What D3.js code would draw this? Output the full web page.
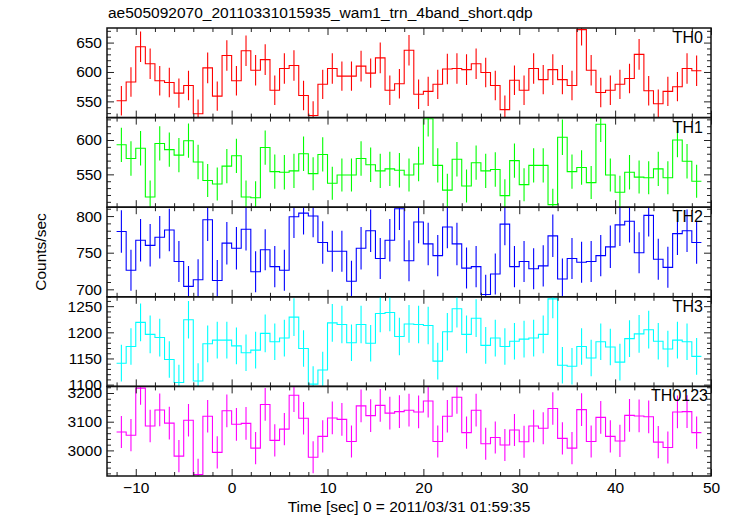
<!DOCTYPE html>
<html>
<head>
<meta charset="utf-8">
<script src="https://cdn.jsdelivr.net/npm/d3@7"></script>
<style>
  html, body { margin: 0; padding: 0; background: #fff; }
  svg { display: block; }
  text { font-family: "Liberation Sans", Arial, Helvetica, sans-serif; fill: #000; }
</style>
</head>
<body>
<svg id="chart" width="733" height="516"></svg>
<script>
// ---------------- DATA ----------------
const chartTitle = "ae505092070_20110331015935_wam1_trn_4band_short.qdp";
const xTitle = "Time [sec] 0 = 2011/03/31 01:59:35";
const yTitle = "Counts/sec";

// bin centres (s), bin width 1 s
const times = [-11.5,-10.5,-9.5,-8.5,-7.5,-6.5,-5.5,-4.5,-3.5,-2.5,-1.5,-0.5,0.5,1.5,2.5,3.5,4.5,5.5,6.5,7.5,8.5,9.5,10.5,11.5,12.5,13.5,14.5,15.5,16.5,17.5,18.5,19.5,20.5,21.5,22.5,23.5,24.5,25.5,26.5,27.5,28.5,29.5,30.5,31.5,32.5,33.5,34.5,35.5,36.5,37.5,38.5,39.5,40.5,41.5,42.5,43.5,44.5,45.5,46.5,47.5,48.5];
const binHalfWidth = 0.5;

const seriesNames = ["TH0", "TH1", "TH2", "TH3", "TH0123"];

const th0 = [551,583,643,614,585,582,564,577,529,607,559,628,585,636,603,621,569,606,611,560,526,579,606,593,593,610,598,624,569,580,637,562,567,579,605,606,604,614,599,577,536,586,569,606,587,604,587,577,672,603,565,569,579,589,630,568,546,567,575,606,602];
const th0Err = [25,25,26,26,25,25,25,25,24,26,25,26,25,26,26,26,25,26,26,25,24,25,26,25,25,26,25,26,25,25,26,25,25,25,26,26,26,26,25,25,24,25,25,26,25,26,25,25,27,26,25,25,25,25,26,25,24,25,25,26,26];

const th1 = [593,573,588,517,595,586,578,599,568,541,536,562,577,517,516,589,554,553,555,580,551,579,537,549,549,573,564,555,558,556,549,565,631,563,527,572,533,567,555,557,519,570,535,563,563,506,604,554,560,538,623,549,524,553,546,545,558,545,600,569,540];
const th1Err = [25,25,25,24,25,25,25,25,25,24,24,25,25,24,24,25,25,25,25,25,24,25,24,24,24,25,25,25,25,25,24,25,26,25,24,25,24,25,25,25,24,25,24,25,25,23,26,25,25,24,26,24,24,25,24,24,25,24,25,25,24];

const th2 = [779,726,767,760,771,781,738,704,713,795,712,763,756,782,724,754,731,726,799,804,800,764,752,752,711,756,780,742,767,810,739,792,762,746,785,762,729,731,693,721,789,731,738,728,732,773,714,742,737,738,746,758,788,793,750,801,741,730,776,780,764];
const th2Err = [29,28,29,29,29,29,28,28,28,29,28,29,29,29,28,28,28,28,29,29,29,29,28,28,28,29,29,28,29,29,28,29,29,28,29,29,28,28,27,28,29,28,28,28,28,29,28,28,28,28,28,29,29,29,28,29,28,28,29,29,29];

const th3 = [1141,1173,1219,1196,1190,1148,1104,1224,1107,1178,1185,1185,1174,1161,1166,1198,1182,1189,1229,1169,1101,1128,1218,1215,1180,1215,1179,1236,1238,1192,1216,1215,1213,1145,1201,1245,1196,1227,1175,1189,1173,1183,1187,1189,1196,1264,1137,1135,1173,1151,1182,1172,1143,1188,1197,1205,1183,1168,1185,1182,1154];
const th3Err = [35,35,36,36,36,35,34,36,34,35,35,35,35,35,35,36,35,35,36,35,34,35,36,36,35,36,35,36,36,36,36,36,36,35,36,36,36,36,35,35,35,35,35,35,36,37,35,35,35,35,35,35,35,35,36,36,35,35,35,35,35];

const th0123 = [3064,3053,3217,3085,3141,3095,2980,3105,2916,3119,2993,3138,3091,3094,3008,3160,3035,3074,3192,3112,2976,3049,3113,3108,3031,3155,3121,3157,3130,3135,3140,3134,3172,3031,3119,3185,3062,3140,3023,3045,3019,3071,3030,3085,3077,3146,3042,3008,3142,3031,3115,3049,3033,3122,3120,3117,3029,3010,3134,3135,3062];
const th0123Err = [56,56,58,57,57,57,56,57,55,57,56,57,57,57,56,57,56,56,58,57,56,56,57,57,56,57,57,57,57,57,57,57,57,56,57,57,56,57,56,56,56,56,56,57,56,57,56,56,57,56,57,56,56,57,57,57,56,56,57,57,56];

// axis ranges and tick labels
const xDomain = [-13, 50];
const xMajorTicks = [-10, 0, 10, 20, 30, 40, 50];
const xMinorStep = 2;

const yDomains = [[522.4, 674.8], [502.2, 632.6], [689.8, 812.1], [1096.6, 1267.9], [2910.8, 3223]];
const yMajorTicks = [[550, 600, 650], [550, 600], [700, 750, 800], [1100, 1150, 1200, 1250], [3000, 3100, 3200]];
const yMinorSteps = [10, 10, 10, 10, 20];

const colors = ["#ff0000", "#00ff00", "#0000ff", "#00ffff", "#ff00ff"];

// ---------------- LAYOUT ----------------
const svg = d3.select("#chart");
const mLeft = 107, mRight = 711, mTop = 28, mBottom = 476;
const nP = 5;
const pH = (mBottom - mTop) / nP;
const FS = 15.5;

const x = d3.scaleLinear().domain(xDomain).range([mLeft, mRight]);

const values = [th0, th1, th2, th3, th0123];
const errors = [th0Err, th1Err, th2Err, th3Err, th0123Err];

const defs = svg.append("defs");

function minorTicks(domain, step) {
  const a = Math.ceil(domain[0] / step) * step;
  const out = [];
  for (let v = a; v <= domain[1] + 1e-9; v += step) out.push(+v.toFixed(6));
  return out;
}

const xMinor = minorTicks(xDomain, xMinorStep).filter(v => !xMajorTicks.includes(v));

for (let p = 0; p < nP; p++) {
  const y0 = mTop + p * pH, y1 = y0 + pH;
  const y = d3.scaleLinear().domain(yDomains[p]).range([y1, y0]);
  const g = svg.append("g");

  defs.append("clipPath").attr("id", "clip" + p)
    .append("rect").attr("x", mLeft).attr("y", y0).attr("width", mRight - mLeft).attr("height", pH);

  const data = times.map((t, i) => ({ t, v: values[p][i], e: errors[p][i] }));
  const stepPts = data.map(d => [d.t - binHalfWidth, d.v]);
  stepPts.push([data[data.length - 1].t + binHalfWidth, data[data.length - 1].v]);

  const dg = g.append("g").attr("clip-path", `url(#clip${p})`);
  dg.append("path")
    .attr("d", d3.line().x(d => x(d[0])).y(d => y(d[1])).curve(d3.curveStepAfter)(stepPts))
    .attr("fill", "none").attr("stroke", colors[p]).attr("stroke-width", 1.1);
  dg.selectAll("line.err").data(data).join("line")
    .attr("class", "err")
    .attr("x1", d => x(d.t)).attr("x2", d => x(d.t))
    .attr("y1", d => y(d.v - d.e)).attr("y2", d => y(d.v + d.e))
    .attr("stroke", colors[p]).attr("stroke-width", 1.1);

  // y axes (inward ticks)
  const yMin = minorTicks(yDomains[p], yMinorSteps[p]).filter(v => !yMajorTicks[p].includes(v));
  g.append("g").attr("transform", `translate(${mLeft},0)`)
    .call(d3.axisLeft(y).tickValues(yMajorTicks[p]).tickSize(-7).tickPadding(5).tickFormat(d3.format("d")));
  g.append("g").attr("transform", `translate(${mLeft},0)`)
    .call(d3.axisLeft(y).tickValues(yMin).tickSize(-4).tickFormat(""));
  g.append("g").attr("transform", `translate(${mRight},0)`)
    .call(d3.axisRight(y).tickValues(yMajorTicks[p]).tickSize(-7).tickFormat(""));
  g.append("g").attr("transform", `translate(${mRight},0)`)
    .call(d3.axisRight(y).tickValues(yMin).tickSize(-4).tickFormat(""));

  // x axes (inward ticks) top and bottom of each panel
  g.append("g").attr("transform", `translate(0,${y1})`)
    .call(d3.axisBottom(x).tickValues(xMajorTicks).tickSize(-7).tickPadding(6)
      .tickFormat(p === nP - 1 ? (d => d < 0 ? "\u2212" + Math.abs(d) : String(d)) : ""));
  g.append("g").attr("transform", `translate(0,${y1})`)
    .call(d3.axisBottom(x).tickValues(xMinor).tickSize(-4).tickFormat(""));
  g.append("g").attr("transform", `translate(0,${y0})`)
    .call(d3.axisTop(x).tickValues(xMajorTicks).tickSize(-7).tickFormat(""));
  g.append("g").attr("transform", `translate(0,${y0})`)
    .call(d3.axisTop(x).tickValues(xMinor).tickSize(-4).tickFormat(""));

  g.selectAll(".domain").remove();
  g.selectAll(".tick line").attr("stroke", "#222").attr("stroke-width", 1);
  g.selectAll(".tick text").attr("font-size", FS).attr("font-family", '"Liberation Sans", Arial, sans-serif').attr("fill", "#000");

  // frame
  g.append("rect").attr("x", mLeft).attr("y", y0).attr("width", mRight - mLeft).attr("height", pH)
    .attr("fill", "none").attr("stroke", "#111").attr("stroke-width", 1.5);

  // panel label
  g.append("text").attr("x", p === nP - 1 ? 708 : 703).attr("y", y0 + 15)
    .attr("text-anchor", "end").attr("font-size", FS + 0.5).text(seriesNames[p]);
}

svg.append("text").attr("x", 108).attr("y", 18).attr("font-size", FS).text(chartTitle);
svg.append("text").attr("x", (mLeft + mRight) / 2).attr("y", 512).attr("text-anchor", "middle")
  .attr("font-size", FS).text(xTitle);
svg.append("text").attr("transform", `translate(46,${(mTop + mBottom) / 2}) rotate(-90)`)
  .attr("text-anchor", "middle").attr("font-size", FS).text(yTitle);
</script>
</body>
</html>
